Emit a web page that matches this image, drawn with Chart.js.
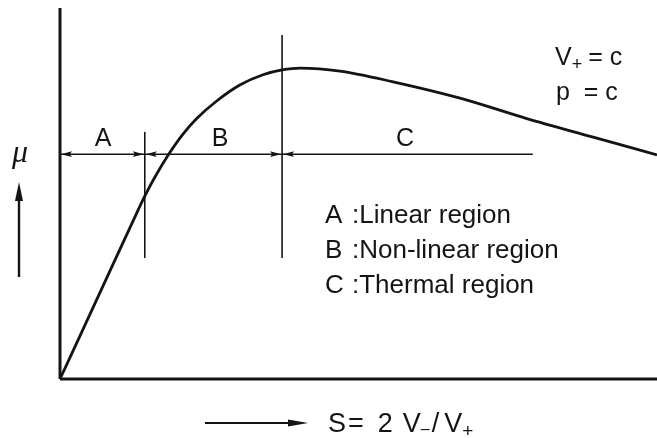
<!DOCTYPE html>
<html>
<head>
<meta charset="utf-8">
<script src="https://cdn.jsdelivr.net/npm/chart.js@4.4.1/dist/chart.umd.min.js"></script>
<style>
  html, body { margin: 0; padding: 0; background: #fff; }
  #wrap { width: 657px; height: 438px; }
</style>
</head>
<body>
<div id="wrap"><canvas id="c" width="657" height="438"></canvas></div>
<script>
// Mobility curve mu(S), S = 2 V- / V+
const curveS  = [0, 0.65, 1.31, 1.42, 1.60, 1.81, 2.05, 2.29, 2.63, 3.02, 3.40, 3.72, 4.02, 4.69, 5.58, 6.70, 7.82, 8.93, 10.0];
const curveMu = [0, 2.26, 4.56, 4.93, 5.47, 6.03, 6.58, 7.02, 7.50, 7.93, 8.20, 8.33, 8.38, 8.30, 8.01, 7.57, 7.02, 6.52, 6.04];

// axis extents
const axisS  = [0, 10];
const axisMu = [0, 10];

// region boundaries
const boundaryS      = [1.42, 3.72];
const boundaryTop    = [6.66, 9.27];
const boundaryBottom = [3.26, 3.26];

// dimension arrows of the regions
const regionLabels = ['A', 'B', 'C'];
const regionFrom   = [0, 1.42, 3.72];
const regionTo     = [1.42, 3.72, 7.92];
const regionEndArrow = [true, true, false];
const regionRowMu  = 6.06;

const legendLines = [['A', ':Linear region'], ['B', ':Non-linear region'], ['C', ':Thermal region']];

const INK = '#141414';
const FONT = '"Liberation Sans", Arial, sans-serif';

const pts = (xs, ys) => xs.map((x, i) => ({ x, y: ys[i] }));

const datasets = [
  { data: pts(curveS, curveMu), borderWidth: 2.8, cubicInterpolationMode: 'monotone' },
  { data: [{ x: axisS[0], y: axisMu[0] }, { x: axisS[0], y: axisMu[1] }], borderWidth: 3 },
  { data: [{ x: axisS[0], y: axisMu[0] }, { x: axisS[1], y: axisMu[0] }], borderWidth: 3 },
  { data: [{ x: regionFrom[0], y: regionRowMu }, { x: regionTo[2], y: regionRowMu }], borderWidth: 1.5 }
];
boundaryS.forEach((s, i) => {
  datasets.push({ data: [{ x: s, y: boundaryBottom[i] }, { x: s, y: boundaryTop[i] }], borderWidth: 1.6 });
});
datasets.forEach(d => {
  d.borderColor = INK;
  d.pointRadius = 0;
  d.showLine = true;
  d.fill = false;
  d.clip = false;
  d.borderCapStyle = 'butt';
});

function arrowHead(ctx, x, y, dir, len, half) {
  // dir: 1 = pointing right, -1 = pointing left
  ctx.beginPath();
  ctx.moveTo(x, y);
  ctx.lineTo(x - dir * len, y - half);
  ctx.lineTo(x - dir * len * 0.8, y);
  ctx.lineTo(x - dir * len, y + half);
  ctx.closePath();
  ctx.fill();
}

function runs(ctx, x, y, parts) {
  let cx = x;
  parts.forEach(p => {
    ctx.font = (p.style || '') + ' ' + p.size + 'px ' + (p.family || FONT);
    ctx.fillText(p.t, cx, y + (p.dy || 0));
    cx += ctx.measureText(p.t).width + (p.gap || 0);
  });
}

const annotations = {
  id: 'annotations',
  afterDatasetsDraw(chart) {
    const ctx = chart.ctx;
    const xs = chart.scales.x, ys = chart.scales.y;
    ctx.save();
    ctx.fillStyle = INK;
    ctx.strokeStyle = INK;

    // arrowheads on the region dimension line
    const ry = ys.getPixelForValue(regionRowMu);
    regionFrom.forEach((s, i) => {
      arrowHead(ctx, xs.getPixelForValue(s) + 1, ry, -1, 11, 2.8);
      if (regionEndArrow[i]) arrowHead(ctx, xs.getPixelForValue(regionTo[i]) - 1, ry, 1, 11, 2.8);
    });

    // region letters
    const labelAt = [0.72, 2.68, 5.78];
    ctx.textAlign = 'center';
    ctx.textBaseline = 'alphabetic';
    ctx.font = '25px ' + FONT;
    regionLabels.forEach((t, i) => {
      ctx.fillText(t, xs.getPixelForValue(labelAt[i]), ry - 8);
    });

    // legend of regions
    ctx.textAlign = 'left';
    legendLines.forEach((l, i) => {
      const by = 223 + i * 35;
      ctx.font = '26px ' + FONT;
      ctx.fillText(l[0], 325, by);
      ctx.fillText(l[1], 352, by);
    });

    // constant conditions
    runs(ctx, 555, 65, [
      { t: 'V', size: 25 },
      { t: '+', size: 18, dy: 5, gap: 6 },
      { t: '= c', size: 25 }
    ]);
    runs(ctx, 556, 100, [
      { t: 'p  = c', size: 25 }
    ]);

    // ordinate label and arrow
    ctx.font = 'italic 32px "Liberation Serif", serif';
    ctx.textAlign = 'center';
    ctx.fillText('\u03BC', 20, 162);
    ctx.lineWidth = 2.4;
    ctx.beginPath();
    ctx.moveTo(19, 277);
    ctx.lineTo(19, 196);
    ctx.stroke();
    ctx.beginPath();
    ctx.moveTo(19, 182);
    ctx.lineTo(15, 201);
    ctx.lineTo(23, 201);
    ctx.closePath();
    ctx.fill();

    // abscissa label and arrow
    ctx.lineWidth = 2;
    ctx.beginPath();
    ctx.moveTo(205, 423);
    ctx.lineTo(292, 423);
    ctx.stroke();
    ctx.beginPath();
    ctx.moveTo(308, 423);
    ctx.lineTo(288, 419.5);
    ctx.lineTo(288, 426.5);
    ctx.closePath();
    ctx.fill();
    ctx.textAlign = 'left';
    runs(ctx, 328, 432, [
      { t: 'S', size: 27, gap: 2 },
      { t: '=', size: 27, gap: 14 },
      { t: '2', size: 27, gap: 10 },
      { t: 'V', size: 27 },
      { t: '\u2013', size: 16, dy: 2, gap: 2 },
      { t: '/', size: 27, gap: 5 },
      { t: 'V', size: 27 },
      { t: '+', size: 19, dy: 5 }
    ]);
    ctx.restore();
  }
};

new Chart(document.getElementById('c'), {
  type: 'scatter',
  data: { datasets },
  options: {
    responsive: false,
    animation: false,
    devicePixelRatio: 1,
    layout: { padding: { left: 60, right: 0, top: 8, bottom: 59 } },
    plugins: { legend: { display: false }, tooltip: { enabled: false } },
    scales: {
      x: { type: 'linear', min: 0, max: 10, display: false },
      y: { type: 'linear', min: 0, max: 10, display: false }
    }
  },
  plugins: [annotations]
});
</script>
</body>
</html>
